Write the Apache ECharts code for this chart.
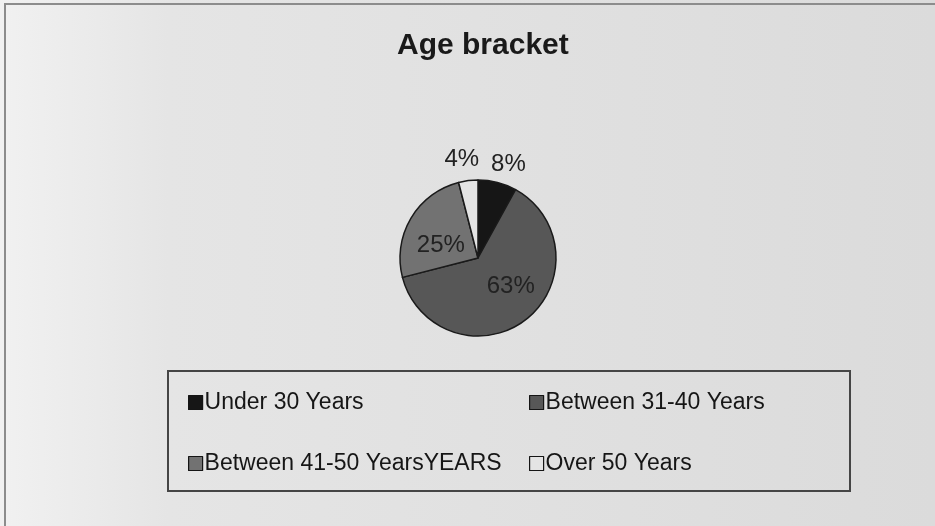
<!DOCTYPE html>
<html>
<head>
<meta charset="utf-8">
<title>Age bracket</title>
<script src="https://cdn.jsdelivr.net/npm/echarts@6/dist/echarts.min.js"></script>
<style>
  html, body { margin: 0; padding: 0; background: #e2e2e2; }
  #chart { width: 935px; height: 526px; }
</style>
</head>
<body>
<div id="chart"></div>
<script>
// Age groups of respondents and their shares (%)
const categories = ['Under 30 Years', 'Between 31-40 Years', 'Between 41-50 YearsYEARS', 'Over 50 Years'];
const shares = [8, 63, 25, 4];
const sliceColors = ['#161616', '#575757', '#727272', '#e4e4e4'];
// Nudges that move each percentage label to where it sits on the page
const labelOffsets = [[20, -53], [7, -5], [-1, 9], [-11, -57]];

const leftColumn = [categories[0], categories[2]];
const rightColumn = [categories[1], categories[3]];

const chart = echarts.init(document.getElementById('chart'), null, { renderer: 'canvas' });

const legendBase = {
  orient: 'vertical',
  top: 386,
  itemGap: 38,
  itemWidth: 14,
  itemHeight: 14,
  icon: 'rect',
  itemStyle: { borderColor: '#151515', borderWidth: 1.2 },
  textStyle: { fontFamily: 'Liberation Sans, Arial, sans-serif', fontSize: 23, color: '#161616', padding: [0, 0, 0, -3] },
  selectedMode: false
};

chart.setOption({
  backgroundColor: {
    type: 'linear', x: 0, y: 0, x2: 1, y2: 0,
    colorStops: [
      { offset: 0, color: '#f1f1f1' },
      { offset: 0.18, color: '#e5e5e5' },
      { offset: 1, color: '#dbdbdb' }
    ]
  },
  title: {
    text: 'Age bracket',
    left: 397,
    top: 31,
    padding: 0,
    textStyle: { fontFamily: 'Liberation Sans, Arial, sans-serif', fontSize: 30, fontWeight: 'bold', color: '#1a1a1a' }
  },
  legend: [
    Object.assign({}, legendBase, { left: 183, data: leftColumn }),
    Object.assign({}, legendBase, { left: 524, data: rightColumn })
  ],
  graphic: [
    {
      type: 'rect', silent: true,
      shape: { x: 5, y: 4, width: 940, height: 540 },
      style: { fill: 'none', stroke: '#8c8c8c', lineWidth: 2 }
    },
    {
      type: 'rect', silent: true,
      shape: { x: 168, y: 371, width: 682, height: 120 },
      style: { fill: 'none', stroke: '#454545', lineWidth: 2 }
    }
  ],
  series: [{
    type: 'pie',
    center: [478, 258],
    radius: 78,
    startAngle: 90,
    clockwise: true,
    animation: false,
    silent: true,
    itemStyle: { borderColor: '#1a1a1a', borderWidth: 1.5 },
    label: {
      show: true,
      position: 'inside',
      formatter: '{c}%',
      fontFamily: 'Liberation Sans, Arial, sans-serif',
      fontSize: 24,
      color: '#222222'
    },
    labelLine: { show: false },
    data: categories.map((name, i) => ({
      name: name,
      value: shares[i],
      itemStyle: { color: sliceColors[i] },
      label: { offset: labelOffsets[i] }
    }))
  }]
});
</script>
</body>
</html>
